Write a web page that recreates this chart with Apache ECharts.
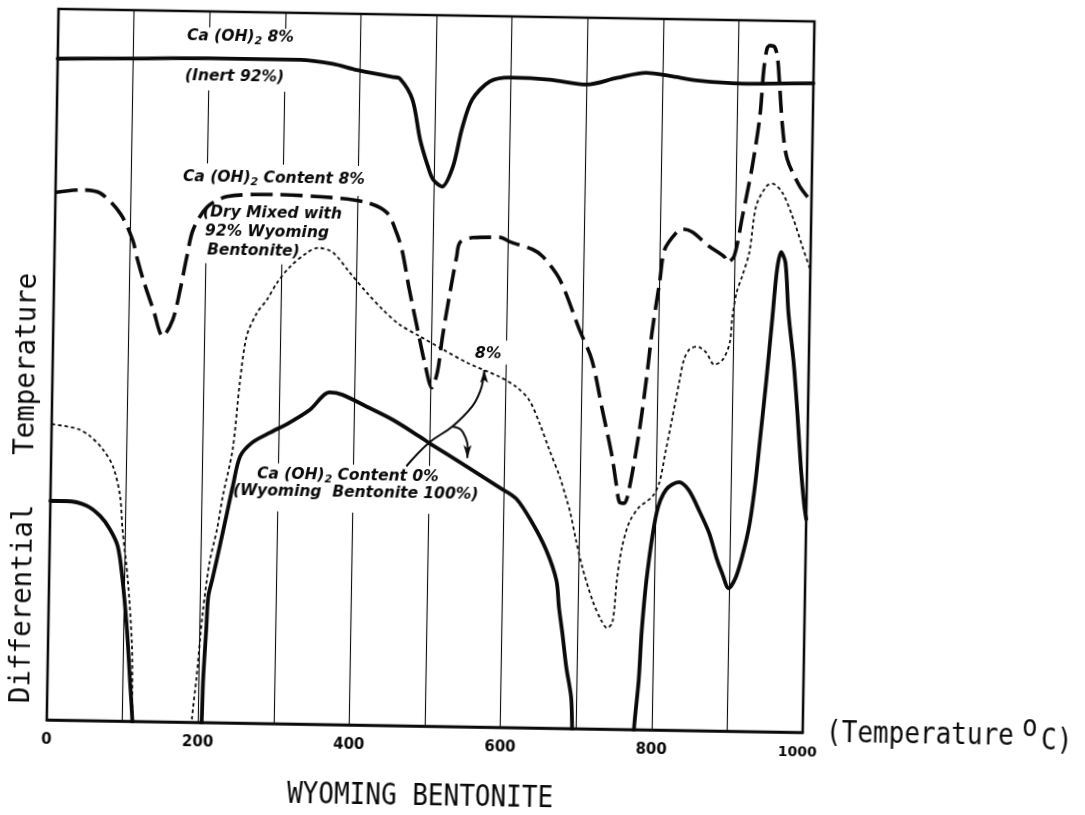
<!DOCTYPE html>
<html>
<head>
<meta charset="utf-8">
<script src="https://cdn.jsdelivr.net/npm/echarts@6/dist/echarts.min.js"></script>
<style>
  html, body { margin: 0; padding: 0; background: #fff; overflow: hidden; }
  /* the whole sheet sits slightly tilted, as on the scanned plate */
  #chart { width: 1085px; height: 815px; transform: rotate(0.95deg); transform-origin: 542.5px 407.5px; }
</style>
</head>
<body>
<div id="chart"></div>
<script>
// Temperature axis ticks (deg C)
const tickValues = [0, 200, 400, 600, 800, 1000];
const tickLabels = ['0', '200', '400', '600', '800', '1000'];

// Ca(OH)2 8 % with inert material 92 %  -- [temperature, differential temperature]
const inertTrace = [
  [0, 93.0], [96, 93.2], [200, 93.4], [321, 93.4], [364, 92.9], [396, 92.1], [444, 91.2],
  [453, 91.0], [470, 88.1], [481, 82.5], [492, 78.7], [499, 76.9], [511, 75.9], [525, 78.7],
  [536, 84.0], [549, 88.2], [572, 90.8], [599, 91.4], [651, 91.2], [700, 90.6], [740, 91.6],
  [779, 92.4], [810, 92.0], [849, 91.4], [906, 91.1], [1000, 91.3]
];

// Ca(OH)2 8 % dry mixed with 92 % Wyoming bentonite (dashed)
const mixedTrace = [
  [0, 74.2], [33, 74.6], [59, 74.2], [86, 71.4], [103, 67.7], [110, 64.9], [118, 62.1],
  [132, 57.9], [145, 54.2], [158, 56.6], [167, 60.8], [175, 65.4], [183, 69.3], [201, 72.5],
  [227, 74.0], [288, 74.4], [367, 74.1], [412, 73.5], [439, 72.1], [452, 69.3], [460, 66.7],
  [470, 61.4], [485, 54.3], [492, 51.1], [502, 47.6], [509, 49.8], [515, 54.8], [524, 61.1],
  [532, 66.1], [536, 68.1], [553, 68.8], [589, 68.9], [602, 68.3], [632, 67.3], [646, 66.3],
  [669, 63.1], [696, 56.1], [713, 51.9], [728, 44.9], [742, 38.3], [748, 34.5], [753, 31.9],
  [759, 31.8], [765, 33.7], [777, 41.7], [786, 49.7], [792, 55.9], [801, 63.0], [807, 67.6],
  [822, 70.0], [830, 70.5], [843, 70.1], [866, 68.1], [886, 66.7], [890, 65.9], [899, 66.8],
  [909, 72.4], [921, 79.5], [930, 86.6], [934, 93.0], [938, 96.1], [942, 96.5], [948, 96.3],
  [952, 94.8], [955, 91.5], [960, 85.2], [967, 80.6], [984, 76.8], [997, 75.0], [1000, 74.6]
];

// 8 % trace (dotted); it runs off the bottom of the scale between about 115 and 190 deg C
const dottedLow = [
  [0, 41.6], [34, 41.0], [51, 40.0], [68, 38.2], [82, 35.8], [92, 31.7], [96, 27.0],
  [104, 20.0], [111, 10.7], [113, 1.4], [116, -6]
];
const dottedHigh = [
  [189, -6], [192, 0.5], [197, 6.1], [204, 15.5], [212, 22.6], [221, 27.2], [228, 31.9],
  [240, 38.5], [248, 47.9], [256, 54.4], [269, 57.7], [282, 59.6], [295, 62.0], [312, 64.3],
  [334, 66.3], [349, 67.0], [368, 66.4], [391, 63.6], [414, 60.8], [435, 58.5], [458, 56.4],
  [485, 54.8], [516, 53.0], [548, 51.2], [591, 49.3], [614, 47.9], [631, 46.1], [645, 42.9],
  [659, 39.1], [673, 35.4], [683, 32.1], [688, 30.3], [696, 26.5], [705, 22.7], [719, 18.1],
  [731, 15.3], [739, 14.2], [746, 15.0], [751, 21.0], [757, 25.6], [766, 29.1], [779, 31.3],
  [796, 32.8], [805, 34.8], [813, 39.4], [821, 44.1], [829, 48.9], [835, 52.2], [842, 53.6],
  [852, 54.0], [864, 53.2], [875, 51.5], [886, 52.2], [895, 54.6], [898, 58.3], [903, 61.7],
  [910, 64.0], [919, 67.4], [927, 73.9], [940, 76.7], [948, 77.1], [961, 75.9], [975, 72.6],
  [989, 68.3], [1000, 65.1]
];

// Ca(OH)2 0 % : Wyoming bentonite 100 % (lower solid trace), three visible pieces
const pureLow = [
  [0, 30.8], [22, 30.8], [48, 30.2], [66, 28.8], [79, 27.0], [90, 24.6], [97, 20.0],
  [104, 13.0], [109, 6.0], [113, 0.4], [116, -6]
];
const pureMid = [
  [203, -6], [205, 0.5], [206, 6.1], [209, 13.2], [211, 17.8], [216, 20.2], [225, 24.8],
  [234, 29.6], [241, 33.3], [250, 37.5], [266, 39.5], [289, 40.9], [315, 42.4], [341, 44.2],
  [367, 46.7], [384, 46.4], [416, 44.8], [451, 43.0], [487, 40.7], [500, 39.8], [550, 36.6],
  [594, 33.7], [616, 32.2], [638, 28.8], [657, 25.0], [671, 20.8], [675, 17.0], [680, 13.4],
  [686, 8.6], [693, 4.4], [695, 0], [697, -6]
];
const pureHigh = [
  [775, -6], [777, 0.3], [782, 6.9], [785, 14.0], [791, 22.0], [802, 30.5], [814, 33.8],
  [831, 34.9], [844, 33.8], [858, 31.0], [872, 27.8], [882, 24.4], [890, 22.2], [899, 20.1],
  [908, 21.6], [916, 24.5], [925, 29.0], [932, 35.0], [938, 42.0], [944, 49.1], [951, 58.4],
  [956, 65.0], [961, 67.5], [967, 66.0], [972, 59.0], [980, 52.0], [986, 45.0], [992, 37.0],
  [997, 32.0], [1000, 30.0]
];

// Annotation arrows between the "8%" note and the two lower traces
const arrowUpPath = [[470, 36.5], [500, 39.9], [530, 42.2], [556, 45.1], [566, 47.2], [570, 49.0]];
const arrowUpTip = [571, 50.2];
const arrowDownPath = [[530, 42.2], [541, 41.8], [548, 40.6], [551, 39.2]];
const arrowDownTip = [550.5, 37.8];

const INK = '#0a0a0a';

// Sheet tilt: text anchors below are given on the tilted sheet and mapped back here
const TILT = 0.95 * Math.PI / 180, CX = 542.5, CY = 407.5;
function level(x, y) {
  const c = Math.cos(TILT), s = Math.sin(TILT);
  return [CX + (x - CX) * c + (y - CY) * s, CY - (x - CX) * s + (y - CY) * c];
}

function trace(data, lineStyle) {
  return {
    type: 'line', data: data, smooth: 0.3, symbol: 'none', clip: true, silent: true,
    lineStyle: Object.assign({ color: INK, cap: 'round', join: 'round' }, lineStyle)
  };
}

function arrow(path, tip, rotate) {
  const data = path.map(p => ({ value: p, symbol: 'none' }));
  data.push({ value: tip, symbol: 'arrow', symbolSize: [6, 13], symbolRotate: rotate });
  return {
    type: 'line', data: data, smooth: 0.4, showSymbol: true, symbol: 'none', silent: true,
    itemStyle: { color: INK }, lineStyle: { color: INK, width: 2 }, z: 4
  };
}

const solidThick = { width: 3.8, type: 'solid' };
const dashedThick = { width: 3.6, type: [22, 8], cap: 'butt' };
const dottedThin = { width: 1.8, type: [3.5, 3], cap: 'butt' };

const labelFont = 'DejaVu Sans';
const subStyle = { fontSize: 11, fontStyle: 'italic', fontWeight: 'bold', fontFamily: labelFont, fill: INK, padding: [9, 0, 0, 0] };

function note(text, x, y) {
  const p = level(x, y);
  return {
    type: 'text', x: p[0], y: p[1], z: 100, silent: true,
    style: {
      text: text, fill: INK, fontSize: 15.5, fontStyle: 'italic', fontWeight: 'bold', fontFamily: labelFont,
      textAlign: 'left', align: 'left', textVerticalAlign: 'middle', verticalAlign: 'middle',
      rich: { s: subStyle }
    }
  };
}

function bigText(text, x, y, extra) {
  const p = level(x, y);
  const el = {
    type: 'text', x: p[0], y: p[1], z: 100, silent: true, scaleY: 1.13,
    style: {
      text: text, fill: INK, fontSize: 26, fontFamily: 'DejaVu Sans Mono',
      textAlign: 'left', align: 'left', textVerticalAlign: 'middle', verticalAlign: 'middle'
    }
  };
  if (extra) {
    Object.assign(el.style, extra.style || {});
    if (extra.rotation !== undefined) el.rotation = extra.rotation;
    if (extra.scaleY !== undefined) el.scaleY = extra.scaleY;
  }
  return el;
}

function clearBox(x, y, w, h) {
  const p = level(x, y);
  return { type: 'rect', z: 1, silent: true, shape: { x: p[0], y: p[1], width: w, height: h }, style: { fill: '#fff' } };
}

const chart = echarts.init(document.getElementById('chart'), null, { renderer: 'canvas' });

chart.setOption({
  animation: false,
  backgroundColor: '#fff',
  grid: { left: 52, top: 17, width: 756, height: 711, show: true, borderColor: INK, borderWidth: 2.5, backgroundColor: 'transparent' },
  xAxis: {
    type: 'value', min: 0, max: 1000, interval: 100,
    axisLine: { show: true, lineStyle: { color: INK, width: 2.5 } },
    axisTick: { show: false },
    splitLine: { show: true, lineStyle: { color: INK, width: 1.1 } },
    axisLabel: {
      margin: 13, color: INK, fontFamily: labelFont, fontWeight: 'bold', fontSize: 15,
      formatter: function (v) {
        const i = tickValues.indexOf(v);
        if (i < 0) return '';
        return i === tickValues.length - 1 ? '{last|' + tickLabels[i] + '}' : tickLabels[i];
      },
      rich: { last: { fontFamily: labelFont, fontWeight: 'bold', fontSize: 14, color: INK, padding: [0, 10, 0, 0] } }
    }
  },
  yAxis: { type: 'value', min: 0, max: 100, show: false },
  series: [
    trace(inertTrace, solidThick),
    trace(mixedTrace, dashedThick),
    trace(dottedLow, dottedThin),
    trace(dottedHigh, dottedThin),
    trace(pureLow, solidThick),
    trace(pureMid, solidThick),
    trace(pureHigh, solidThick),
    arrow(arrowUpPath, arrowUpTip, 0),
    arrow(arrowDownPath, arrowDownTip, 180)
  ],
  graphic: [
    // keep the grid lines out from behind the notes
    clearBox(180, 27, 122, 63),
    clearBox(180, 163, 186, 30),
    clearBox(192, 193, 160, 70),
    clearBox(250, 463, 235, 48),
    clearBox(470, 340, 40, 24),

    note('Ca (OH){s|2} 8%', 187, 36),
    note('(Inert 92%)', 185, 76),
    note('Ca (OH){s|2} Content 8%', 183, 177),
    note('(Dry Mixed with', 203, 212),
    note('92% Wyoming', 205, 231),
    note('Bentonite)', 207, 250),
    note('8%', 475, 354),
    note('Ca (OH){s|2} Content 0%', 257, 474),
    note('(Wyoming  Bentonite 100%)', 233, 491),

    bigText('Differential   Temperature', 25, 488, {
      rotation: Math.PI / 2, scaleY: 1,
      style: { fontSize: 27.5, textAlign: 'center', align: 'center' }
    }),
    bigText('(Temperature', 826, 734),
    bigText('o', 1022, 728),
    bigText('C)', 1041, 742),
    bigText('WYOMING BENTONITE', 287, 795)
  ]
});
</script>
</body>
</html>
